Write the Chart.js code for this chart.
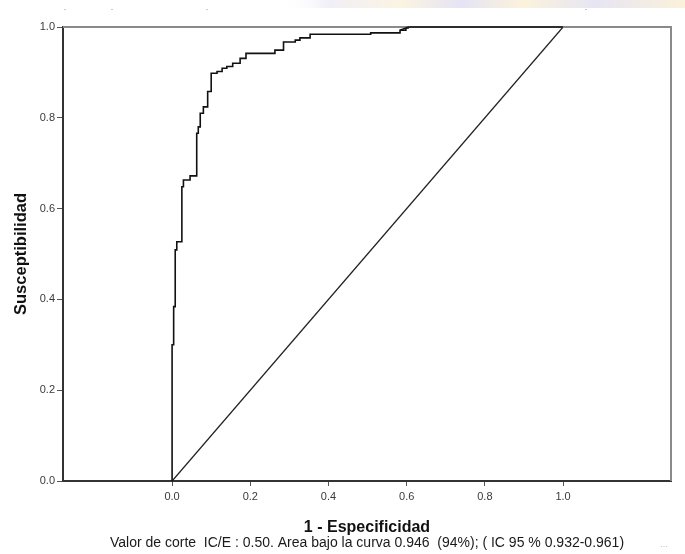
<!DOCTYPE html>
<html>
<head>
<meta charset="utf-8">
<script src="https://cdn.jsdelivr.net/npm/chart.js@4.4.1/dist/chart.umd.min.js"></script>
<style>
  html, body { margin: 0; padding: 0; background: #fff; }
</style>
</head>
<body>
<canvas id="roc" width="685" height="554"></canvas>
<script>
// ROC curve, corner points of the steps (1 - especificidad, susceptibilidad)
var fpr = [0.000, 0.000, 0.004, 0.008, 0.012, 0.025, 0.029, 0.046, 0.063, 0.067,
           0.072, 0.080, 0.091, 0.100, 0.115, 0.128, 0.140, 0.155, 0.174, 0.189,
           0.263, 0.285, 0.315, 0.327, 0.353, 0.508, 0.583, 0.598, 0.604, 1.000];
var tpr = [0.000, 0.300, 0.384, 0.509, 0.527, 0.648, 0.663, 0.672, 0.766, 0.780,
           0.810, 0.824, 0.858, 0.898, 0.902, 0.909, 0.913, 0.920, 0.931, 0.942,
           0.949, 0.967, 0.971, 0.976, 0.984, 0.987, 0.993, 0.998, 1.000, 1.000];
// reference diagonal
var refX = [0, 1];
var refY = [0, 1];

var xTicks = [0, 0.2, 0.4, 0.6, 0.8, 1.0];
var yTicks = [0, 0.2, 0.4, 0.6, 0.8, 1.0];
var xTitle = '1 - Especificidad';
var yTitle = 'Susceptibilidad';
var note = 'Valor de corte  IC/E : 0.50. Area bajo la curva 0.946  (94%); ( IC 95 % 0.932-0.961)';

function toPoints(xs, ys) {
  var pts = [];
  for (var i = 0; i < xs.length; i++) {
    pts.push({x: xs[i], y: ys[i]});
  }
  return pts;
}

var FONT = "'Liberation Sans', Arial, sans-serif";

var extras = {
  id: 'extras',
  beforeDraw: function(chart) {
    var ctx = chart.ctx;
    // faded strip along the top edge (scan artefact)
    var g = ctx.createLinearGradient(280, 0, 685, 0);
    g.addColorStop(0, 'rgba(255,255,255,0)');
    g.addColorStop(0.12, '#f1eff7');
    g.addColorStop(0.3, '#fbf4e2');
    g.addColorStop(0.45, '#e4e4f4');
    g.addColorStop(0.6, '#fcf2dc');
    g.addColorStop(0.78, '#e6e5f3');
    g.addColorStop(1, '#fcf1da');
    ctx.save();
    ctx.fillStyle = g;
    ctx.fillRect(280, 0, 405, 8);
    ctx.fillStyle = '#c8c8c8';
    [64, 111, 206, 585].forEach(function(x) { ctx.fillRect(x, 9, 2, 1); });
    ctx.restore();
  },
  afterDraw: function(chart) {
    var ctx = chart.ctx;
    var a = chart.chartArea;
    ctx.save();
    // top and right frame
    ctx.strokeStyle = '#8a8a8a';
    ctx.lineWidth = 2;
    ctx.beginPath();
    ctx.moveTo(a.left, a.top);
    ctx.lineTo(a.right, a.top);
    ctx.lineTo(a.right, a.bottom);
    ctx.stroke();
    ctx.restore();

    // redraw the top of the curve so it sits over the frame
    ctx.save();
    ctx.strokeStyle = '#111';
    ctx.lineWidth = 1.6;
    ctx.beginPath();
    var xs = chart.scales.x, ys = chart.scales.y;
    for (var i = 0; i < fpr.length; i++) {
      if (tpr[i] < 0.99) continue;
      var px = xs.getPixelForValue(fpr[i]), py = ys.getPixelForValue(tpr[i]);
      if (i > 0 && tpr[i - 1] >= 0.99) ctx.lineTo(px, py); else ctx.moveTo(px, py);
    }
    ctx.stroke();
    ctx.restore();

    // footnote
    ctx.save();
    ctx.fillStyle = '#1a1a1a';
    ctx.font = '14px ' + FONT;
    ctx.textAlign = 'center';
    ctx.textBaseline = 'middle';
    ctx.fillText(note, 367, 543);
    ctx.fillStyle = '#bbb';
    ctx.font = '9px ' + FONT;
    ctx.fillText('...', 664, 545);
    ctx.restore();
  }
};

new Chart(document.getElementById('roc'), {
  type: 'scatter',
  data: {
    datasets: [
      {
        label: 'ROC',
        data: toPoints(fpr, tpr),
        showLine: true,
        stepped: 'before',
        borderColor: '#111',
        borderWidth: 1.6,
        pointRadius: 0,
        fill: false,
        clip: 3
      },
      {
        label: 'Referencia',
        data: toPoints(refX, refY),
        showLine: true,
        borderColor: '#222',
        borderWidth: 1.2,
        pointRadius: 0,
        fill: false,
        clip: 3
      }
    ]
  },
  options: {
    responsive: false,
    animation: false,
    layout: { padding: { top: 27, right: 14, left: 0, bottom: 0 } },
    plugins: {
      legend: { display: false },
      tooltip: { enabled: false }
    },
    scales: {
      x: {
        type: 'linear',
        min: -0.279,
        max: 1.276,
        afterBuildTicks: function(s) {
          s.ticks = xTicks.map(function(v) { return {value: v}; });
        },
        afterFit: function(s) { s.height = 73; },
        ticks: {
          autoSkip: false,
          maxRotation: 0,
          padding: 4,
          color: '#3a3a3a',
          font: { size: 11, family: FONT },
          callback: function(v) { return Number(v).toFixed(1); }
        },
        grid: { display: true, drawOnChartArea: false, drawTicks: true, tickLength: 5, color: '#555' },
        border: { display: true, color: '#333', width: 2 },
        title: {
          display: true,
          text: xTitle,
          color: '#111',
          font: { size: 16, weight: 'bold', family: FONT },
          padding: { top: 0, bottom: 17 }
        }
      },
      y: {
        min: 0,
        max: 1,
        afterBuildTicks: function(s) {
          s.ticks = yTicks.map(function(v) { return {value: v}; });
        },
        afterFit: function(s) { s.width = 63; },
        ticks: {
          padding: 2,
          color: '#3a3a3a',
          font: { size: 11, family: FONT },
          callback: function(v) { return Number(v).toFixed(1); }
        },
        grid: { display: true, drawOnChartArea: false, drawTicks: true, tickLength: 6, color: '#555' },
        border: { display: true, color: '#333', width: 2 },
        title: {
          display: true,
          text: yTitle,
          color: '#111',
          font: { size: 16.5, weight: 'bold', family: FONT },
          padding: { top: 12, bottom: 0 }
        }
      }
    }
  },
  plugins: [extras]
});
</script>
</body>
</html>
